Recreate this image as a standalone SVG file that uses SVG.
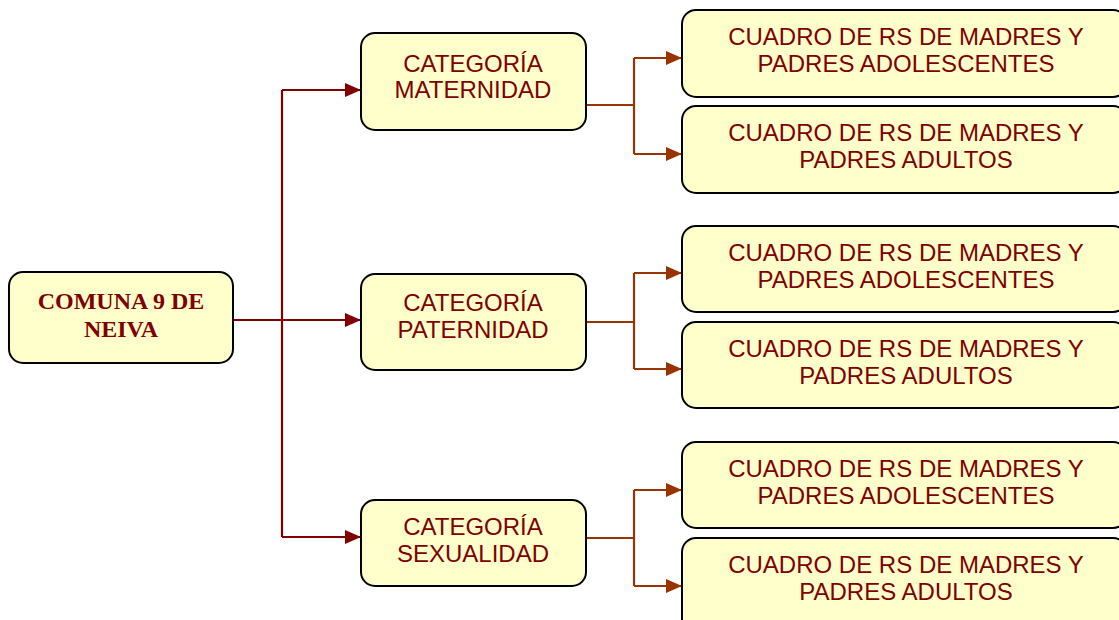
<svg xmlns="http://www.w3.org/2000/svg" width="1119" height="620" viewBox="0 0 1119 620">
<style>
.box{fill:#FFFFCC;stroke:#000;stroke-width:2}
.t{font-family:"Liberation Sans",Arial,sans-serif;font-size:24px;fill:#800000;text-anchor:middle}
.tb{font-family:"Liberation Serif","Times New Roman",serif;font-size:24px;font-weight:bold;fill:#800000;text-anchor:middle}
.main{fill:none;stroke:#800000;stroke-width:2.2}
.sub{fill:none;stroke:#993300;stroke-width:2.2}
</style>
<defs>
<marker id="am" markerWidth="16" markerHeight="14" refX="16" refY="7" orient="auto" markerUnits="userSpaceOnUse"><path d="M0,0 L16,7 L0,14 z" fill="#800000"/></marker>
<marker id="as" markerWidth="16" markerHeight="14" refX="16" refY="7" orient="auto" markerUnits="userSpaceOnUse"><path d="M0,0 L16,7 L0,14 z" fill="#993300"/></marker>
</defs>
<rect width="1119" height="620" fill="#fff"/>
<g id="connectors">
<path class="main" d="M282,90 V537"/>
<path class="main" d="M233,320 H361" marker-end="url(#am)"/>
<path class="main" d="M282,90 H361" marker-end="url(#am)"/>
<path class="main" d="M282,537 H361" marker-end="url(#am)"/>
<path class="sub" d="M586,105 H634"/>
<path class="sub" d="M634,58 V154"/>
<path class="sub" d="M634,58 H682" marker-end="url(#as)"/>
<path class="sub" d="M634,154 H682" marker-end="url(#as)"/>
<path class="sub" d="M586,322 H634"/>
<path class="sub" d="M634,273 V369"/>
<path class="sub" d="M634,273 H682" marker-end="url(#as)"/>
<path class="sub" d="M634,369 H682" marker-end="url(#as)"/>
<path class="sub" d="M586,538 H634"/>
<path class="sub" d="M634,490 V586"/>
<path class="sub" d="M634,490 H682" marker-end="url(#as)"/>
<path class="sub" d="M634,586 H682" marker-end="url(#as)"/>
</g>
<g id="root"><rect class="box" x="9" y="272" width="224" height="91" rx="14"/><text class="tb" x="121" y="309">COMUNA 9 DE</text><text class="tb" x="121" y="337">NEIVA</text></g>
<g id="cat1"><rect class="box" x="361" y="33" width="225" height="97" rx="14"/><text class="t" x="473" y="72">CATEGORÍA</text><text class="t" x="473" y="98">MATERNIDAD</text></g>
<g id="cat2"><rect class="box" x="361" y="274" width="225" height="96" rx="14"/><text class="t" x="473" y="311">CATEGORÍA</text><text class="t" x="473" y="338">PATERNIDAD</text></g>
<g id="cat3"><rect class="box" x="361" y="500" width="225" height="86" rx="14"/><text class="t" x="473" y="535">CATEGORÍA</text><text class="t" x="473" y="562">SEXUALIDAD</text></g>
<g id="n1a"><rect class="box" x="682" y="10" width="445" height="87" rx="14"/><text class="t" x="906" y="45">CUADRO DE RS DE MADRES Y</text><text class="t" x="906" y="72">PADRES ADOLESCENTES</text></g>
<g id="n1b"><rect class="box" x="682" y="106" width="445" height="87" rx="14"/><text class="t" x="906" y="141">CUADRO DE RS DE MADRES Y</text><text class="t" x="906" y="168">PADRES ADULTOS</text></g>
<g id="n2a"><rect class="box" x="682" y="226" width="445" height="86" rx="14"/><text class="t" x="906" y="261">CUADRO DE RS DE MADRES Y</text><text class="t" x="906" y="288">PADRES ADOLESCENTES</text></g>
<g id="n2b"><rect class="box" x="682" y="322" width="445" height="86" rx="14"/><text class="t" x="906" y="357">CUADRO DE RS DE MADRES Y</text><text class="t" x="906" y="384">PADRES ADULTOS</text></g>
<g id="n3a"><rect class="box" x="682" y="442" width="445" height="86" rx="14"/><text class="t" x="906" y="477">CUADRO DE RS DE MADRES Y</text><text class="t" x="906" y="504">PADRES ADOLESCENTES</text></g>
<g id="n3b"><rect class="box" x="682" y="538" width="445" height="100" rx="14"/><text class="t" x="906" y="573">CUADRO DE RS DE MADRES Y</text><text class="t" x="906" y="600">PADRES ADULTOS</text></g>
</svg>
